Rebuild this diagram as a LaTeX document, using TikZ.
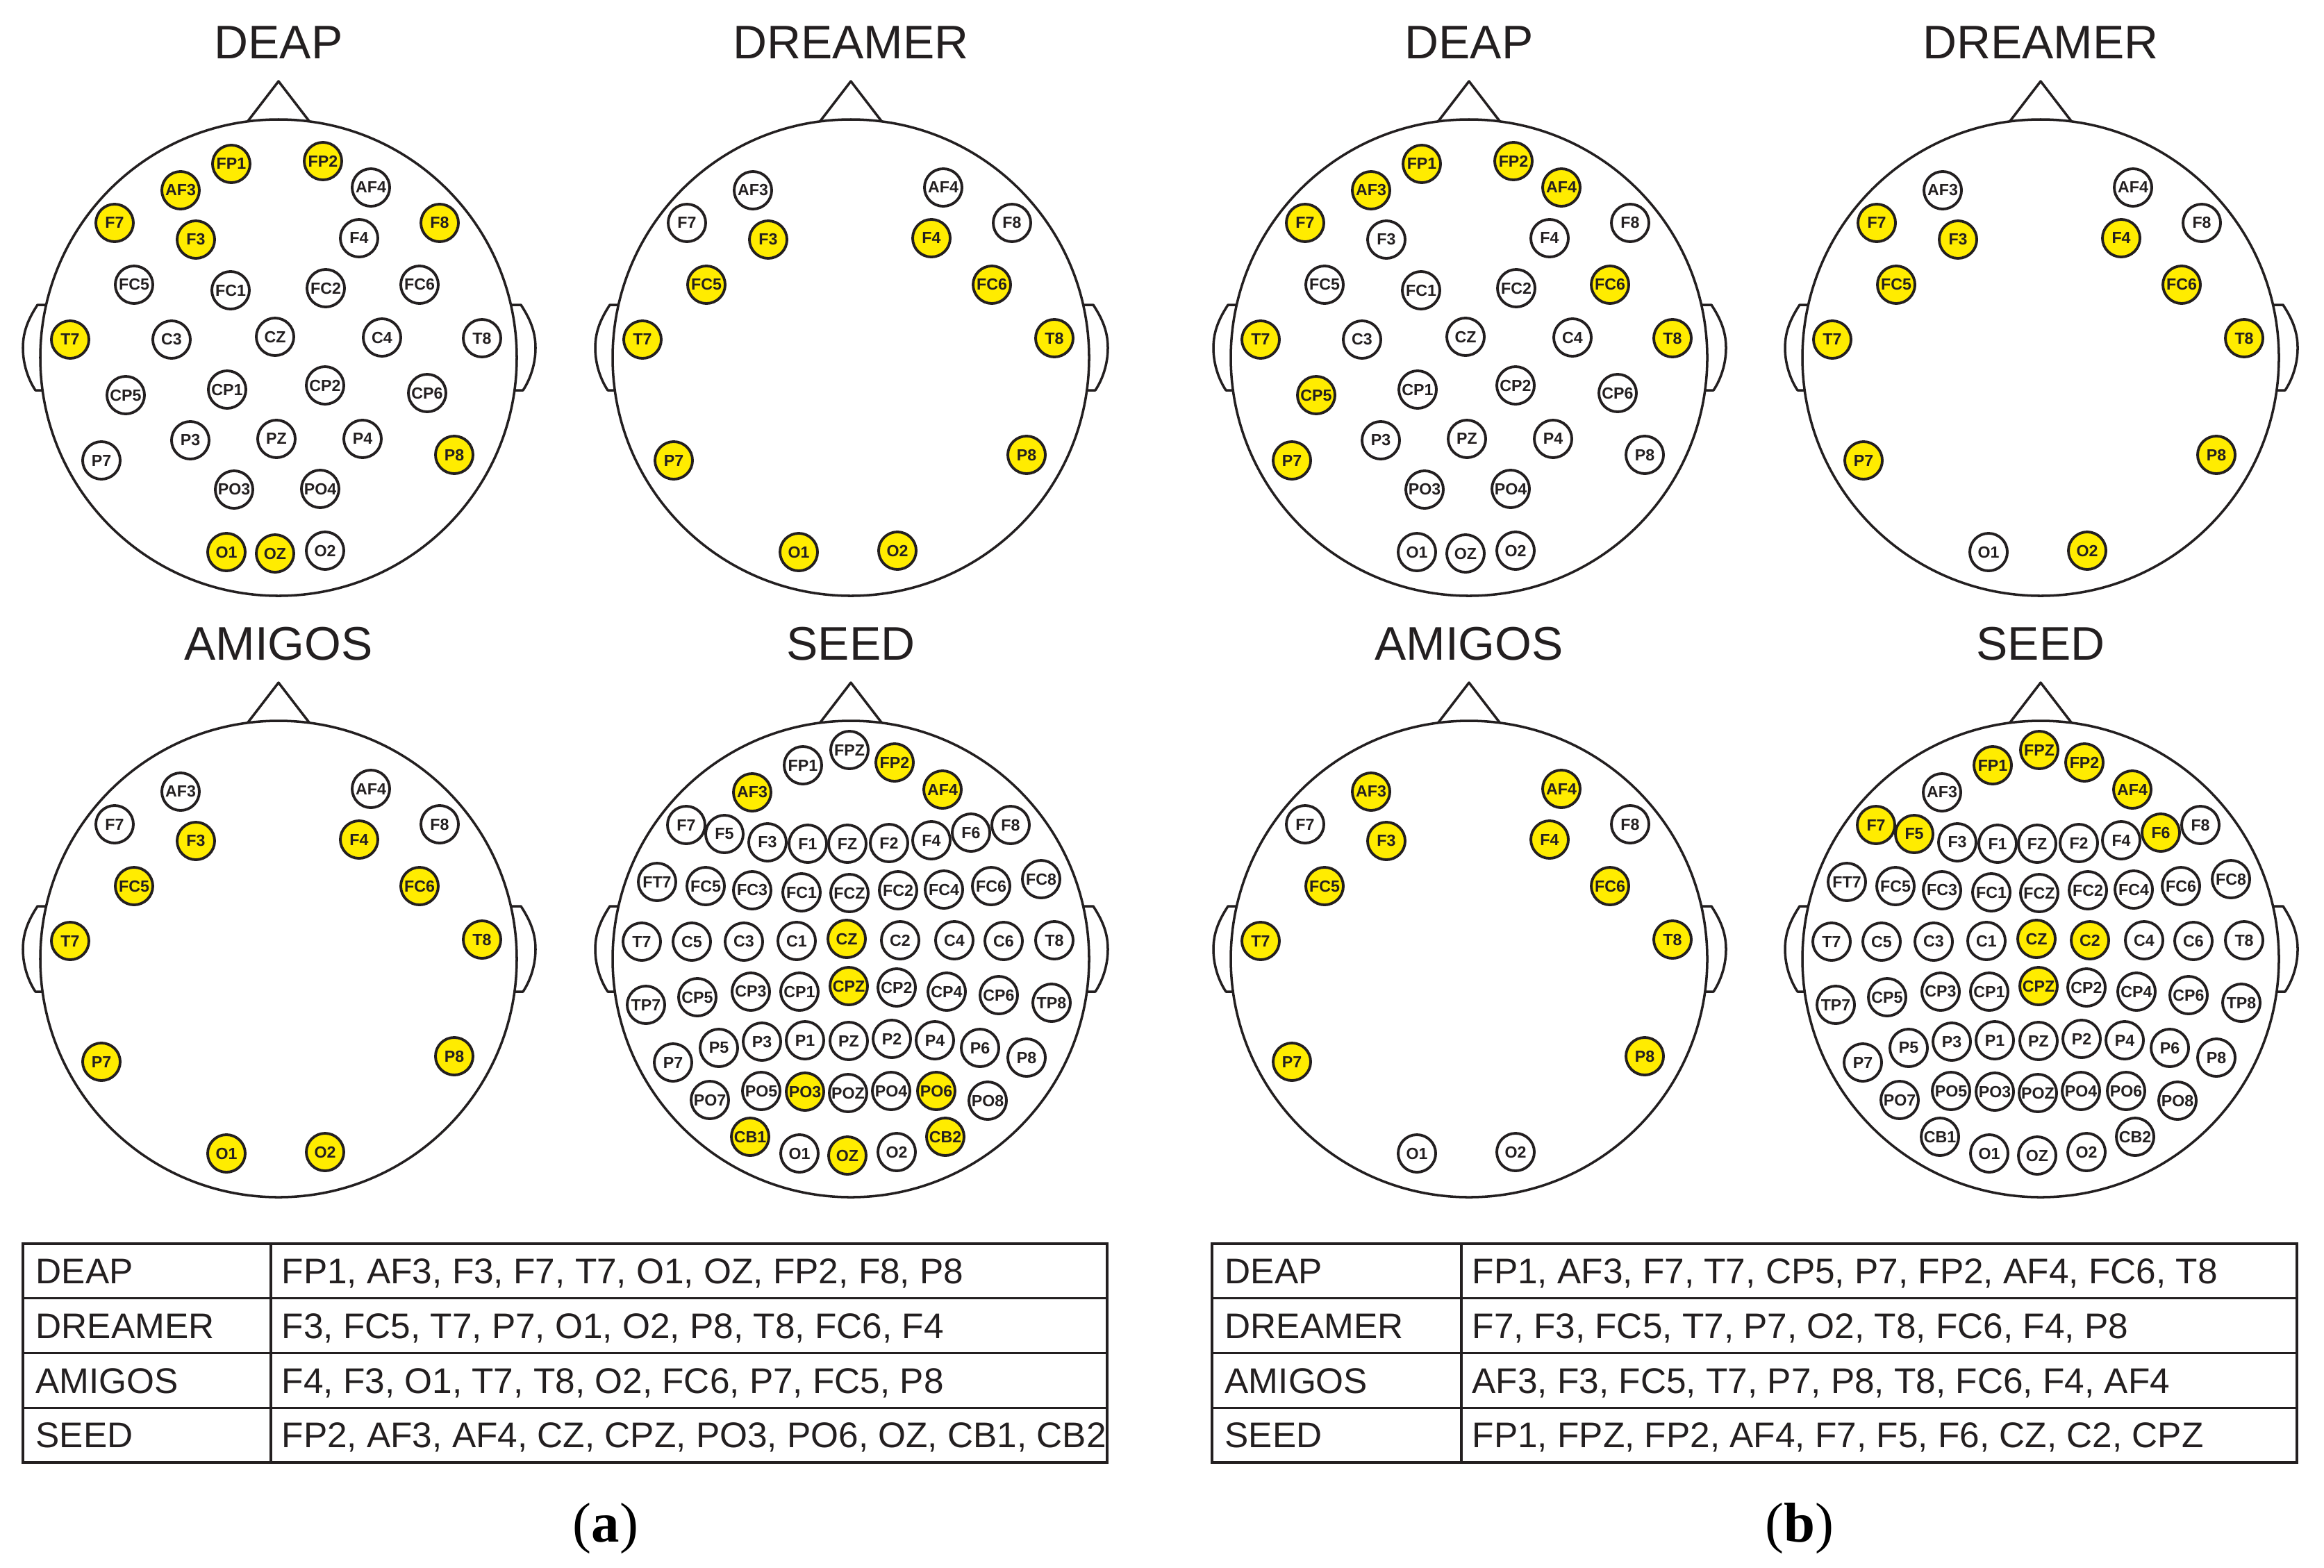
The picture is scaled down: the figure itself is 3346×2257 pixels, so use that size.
\documentclass[tikz,border=0pt]{standalone}
\usepackage{fontspec}
\setmainfont{Liberation Serif}
\setsansfont{Liberation Sans}
\definecolor{ink}{RGB}{35,31,32}
\definecolor{eegyellow}{RGB}{255,236,0}
\tikzset{
  headline/.style={draw=ink, line width=1.0pt, line join=round},
  el/.style={circle, draw=ink, line width=1.1pt, minimum size=0.54cm, inner sep=0pt, text=ink,
    font=\fontsize{6.6pt}{8pt}\selectfont\sffamily\bfseries},
  headtitle/.style={anchor=base, inner sep=0pt, text=ink, font=\fontsize{19.3pt}{22pt}\selectfont\sffamily},
  tline/.style={draw=ink, line width=0.9pt},
  tcell/.style={anchor=base west, inner sep=0pt, text=ink, font=\fontsize{14.6pt}{17pt}\selectfont\sffamily},
  sublabel/.style={anchor=base, inner sep=0pt, text=black, font=\fontsize{23pt}{26pt}\selectfont\rmfamily},
}
\def\laythirtytwo{FP1/-68/-279,FP2/64/-283,AF3/-141/-241,AF4/133/-245,F7/-236/-194,F3/-119/-170,F4/116/-172,F8/232/-194,FC5/-208/-105,FC1/-69/-97,FC2/68/-100,FC6/203/-105,T7/-300/-26,C3/-154/-26,CZ/-5/-30,C4/149/-29,T8/293/-28,CP5/-220/54,CP1/-74/46,CP2/67/40,CP6/214/51,P7/-255/148,P3/-127/119,PZ/-3/117,P4/121/117,P8/253/140,PO3/-64/190,PO4/60/189,O1/-75/280,OZ/-5/282,O2/67/278}
\def\layfourteen{AF3/-141/-241,AF4/133/-245,F7/-236/-194,F3/-119/-170,F4/116/-172,F8/232/-194,FC5/-208/-105,FC6/203/-105,T7/-300/-26,T8/293/-28,P7/-255/148,P8/253/140,O1/-75/280,O2/67/278}
\def\laysixtytwo{FPZ/-2/-301,FP1/-69/-279,FP2/63/-283,AF3/-142/-240,AF4/132/-244,F7/-237/-193,F5/-182/-180,F3/-120/-168,F1/-62/-166,FZ/-5/-166,F2/55/-167,F4/116/-171,F6/173/-182,F8/230/-193,FT7/-279/-111,FC5/-209/-105,FC3/-142/-99,FC1/-71/-96,FCZ/-2/-95,FC2/68/-99,FC4/134/-100,FC6/202/-105,FC8/274/-115,T7/-301/-25,C5/-229/-25,C3/-154/-25,C1/-78/-26,CZ/-6/-29,C2/71/-27,C4/149/-27,C6/220/-26,T8/293/-27,TP7/-295/66,CP5/-221/55,CP3/-144/47,CP1/-74/47,CPZ/-3/39,CP2/66/41,CP4/138/47,CP6/213/52,TP8/289/63,P7/-256/149,P5/-190/128,P3/-128/119,P1/-66/117,PZ/-3/118,P2/59/115,P4/121/117,P6/186/128,P8/253/142,PO7/-203/203,PO5/-129/190,PO3/-66/191,POZ/-4/193,PO4/58/190,PO6/123/190,PO8/197/204,CB1/-145/256,O1/-74/280,OZ/-5/283,O2/66/278,CB2/136/256}
% #1 id, #2 cx, #3 cy, #4 layout, #5 title, #6 highlighted channels
\newcommand\eeghead[6]{%
  \foreach \q in {#6}{\expandafter\gdef\csname hl-#1-\q\endcsname{1}}%
  \begin{scope}[shift={(#2,#3)}]
    \draw[headline] (-44.5,-340.1) -- (0,-398) -- (44.5,-340.1);
    \draw[headline] (-334.5,-76) -- (-347,-76) .. controls (-360,-56) and (-368,-38) .. (-368,-14)
       .. controls (-368,10) and (-360,32) .. (-350,47) -- (-339.8,47);
    \draw[headline] (334.5,-76) -- (349,-76) .. controls (362,-56) and (370,-38) .. (370,-14)
       .. controls (370,10) and (362,32) .. (352,47) -- (339.8,47);
    \draw[headline, fill=white] (0,0) circle (343);
    \node[headtitle] (#1-title) at (0,-431) {#5};
    \foreach \n/\x/\y in #4 {%
      \ifcsname hl-#1-\n\endcsname\def\fc{eegyellow}\else\def\fc{white}\fi
      \node[el, fill=\fc] (#1-\n) at (\x,\y) {\n};
    }
  \end{scope}}
\begin{document}
\begin{tikzpicture}[x=0.01cm, y=-0.01cm]
\fill[white] (0,0) rectangle (3346,2257);
\useasboundingbox (0,0) rectangle (3346,2257);
% ---------- panel (a)
\eeghead{aDEAP}{401}{515}{\laythirtytwo}{DEAP}{FP1,AF3,F3,F7,T7,O1,OZ,FP2,F8,P8}
\eeghead{aDREAMER}{1225}{515}{\layfourteen}{DREAMER}{F3,FC5,T7,P7,O1,O2,P8,T8,FC6,F4}
\eeghead{aAMIGOS}{401}{1381}{\layfourteen}{AMIGOS}{F4,F3,O1,T7,T8,O2,FC6,P7,FC5,P8}
\eeghead{aSEED}{1225}{1381}{\laysixtytwo}{SEED}{FP2,AF3,AF4,CZ,CPZ,PO3,PO6,OZ,CB1,CB2}
% ---------- panel (b)
\eeghead{bDEAP}{2115}{515}{\laythirtytwo}{DEAP}{FP1,AF3,F7,T7,CP5,P7,FP2,AF4,FC6,T8}
\eeghead{bDREAMER}{2938}{515}{\layfourteen}{DREAMER}{F7,F3,FC5,T7,P7,O2,T8,FC6,F4,P8}
\eeghead{bAMIGOS}{2115}{1381}{\layfourteen}{AMIGOS}{AF3,F3,FC5,T7,P7,P8,T8,FC6,F4,AF4}
\eeghead{bSEED}{2938}{1381}{\laysixtytwo}{SEED}{FP1,FPZ,FP2,AF4,F7,F5,F6,CZ,C2,CPZ}
% ---------- table (a)
\draw[tline] (33,1791) rectangle (1594,2106);
\draw[tline] (33,1869.75) -- (1594,1869.75);
\draw[tline] (33,1948.5) -- (1594,1948.5);
\draw[tline] (33,2027.25) -- (1594,2027.25);
\draw[tline] (390,1791) -- (390,2106);
\node[tcell] (ta-n1) at (51,1848) {DEAP};
\node[tcell] (ta-v1) at (405,1848) {FP1, AF3, F3, F7, T7, O1, OZ, FP2, F8, P8};
\node[tcell] (ta-n2) at (51,1927) {DREAMER};
\node[tcell] (ta-v2) at (405,1927) {F3, FC5, T7, P7, O1, O2, P8, T8, FC6, F4};
\node[tcell] (ta-n3) at (51,2006) {AMIGOS};
\node[tcell] (ta-v3) at (405,2006) {F4, F3, O1, T7, T8, O2, FC6, P7, FC5, P8};
\node[tcell] (ta-n4) at (51,2084) {SEED};
\node[tcell] (ta-v4) at (405,2084) {FP2, AF3, AF4, CZ, CPZ, PO3, PO6, OZ, CB1, CB2};
% ---------- table (b)
\draw[tline] (1745,1791) rectangle (3307,2106);
\draw[tline] (1745,1869.75) -- (3307,1869.75);
\draw[tline] (1745,1948.5) -- (3307,1948.5);
\draw[tline] (1745,2027.25) -- (3307,2027.25);
\draw[tline] (2104,1791) -- (2104,2106);
\node[tcell] (tb-n1) at (1763,1848) {DEAP};
\node[tcell] (tb-v1) at (2119,1848) {FP1, AF3, F7, T7, CP5, P7, FP2, AF4, FC6, T8};
\node[tcell] (tb-n2) at (1763,1927) {DREAMER};
\node[tcell] (tb-v2) at (2119,1927) {F7, F3, FC5, T7, P7, O2, T8, FC6, F4, P8};
\node[tcell] (tb-n3) at (1763,2006) {AMIGOS};
\node[tcell] (tb-v3) at (2119,2006) {AF3, F3, FC5, T7, P7, P8, T8, FC6, F4, AF4};
\node[tcell] (tb-n4) at (1763,2084) {SEED};
\node[tcell] (tb-v4) at (2119,2084) {FP1, FPZ, FP2, AF4, F7, F5, F6, CZ, C2, CPZ};
% ---------- sub-figure labels
\node[sublabel] (lbl-a) at (872,2220) {(\textbf{a})};
\node[sublabel] (lbl-b) at (2591,2220) {(\textbf{b})};
\end{tikzpicture}
\end{document}
